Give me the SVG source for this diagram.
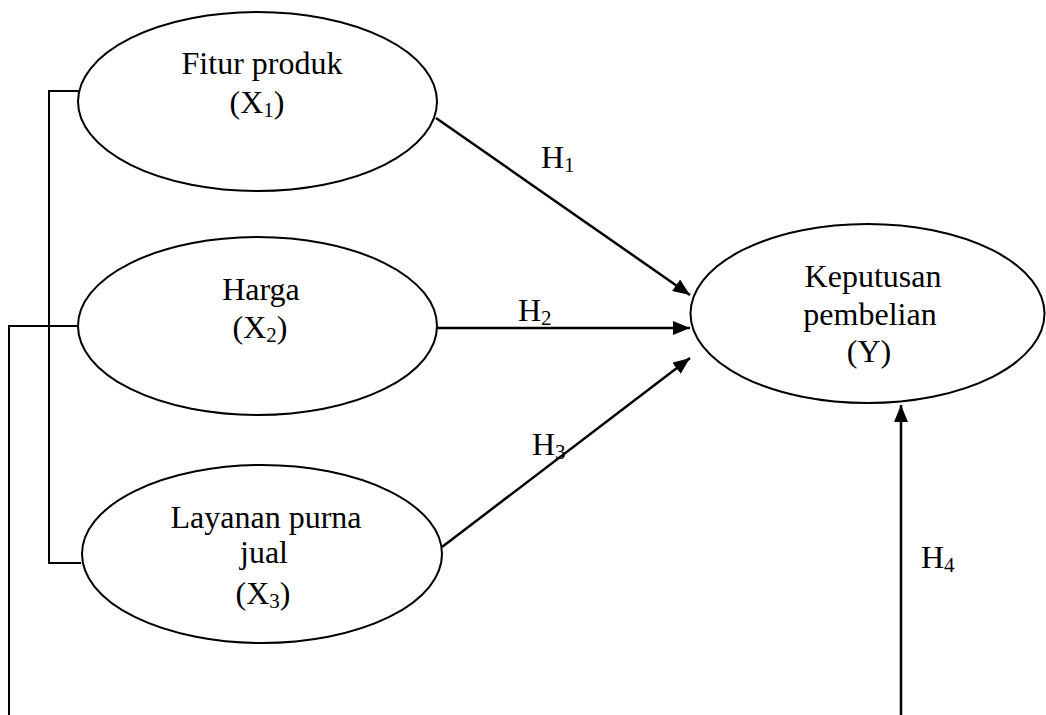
<svg xmlns="http://www.w3.org/2000/svg" width="1046" height="715" viewBox="0 0 1046 715">
  <style>
    .node { fill: #ffffff; stroke: #000000; stroke-width: 2; }
    .lbl { font-family: "Liberation Serif", "Times New Roman", serif; font-size: 32px; fill: #000000; text-anchor: middle; }
    .hl { font-family: "Liberation Serif", "Times New Roman", serif; font-size: 32px; fill: #000000; }
    .sub { font-size: 21px; }
    .wire { fill: none; stroke: #000000; stroke-width: 2; }
    .arrow { fill: none; stroke: #000000; stroke-width: 2.5; marker-end: url(#head); }
  </style>
  <defs>
    <marker id="head" markerUnits="userSpaceOnUse" markerWidth="18" markerHeight="14" refX="17" refY="7" orient="auto">
      <path d="M0,0 L17,7 L0,14 z" fill="#000000"/>
    </marker>
  </defs>
  <rect width="1046" height="715" fill="#ffffff"/>

  <!-- connectors -->
  <g id="connectors">
    <!-- bracket joining X1, X2, X3 -->
    <polyline class="wire" points="79,91 49,91 49,563 81,563"/>
    <!-- line from X2 running down to the bottom edge -->
    <polyline class="wire" points="78,326 9,326 9,715"/>
    <line class="arrow" x1="436" y1="118" x2="690" y2="295"/>
    <line class="arrow" x1="437" y1="328" x2="690" y2="328"/>
    <line class="arrow" x1="442" y1="547" x2="690" y2="358"/>
    <line class="arrow" x1="901" y1="715" x2="901" y2="405"/>
    <text class="hl" x="541" y="168">H<tspan class="sub" dy="4">1</tspan></text>
    <text class="hl" x="518" y="321">H<tspan class="sub" dy="4">2</tspan></text>
    <text class="hl" x="532" y="455">H<tspan class="sub" dy="4">3</tspan></text>
    <text class="hl" x="921" y="568">H<tspan class="sub" dy="4">4</tspan></text>
  </g>

  <g id="x1">
    <ellipse class="node" cx="257.5" cy="101.5" rx="179.5" ry="89.5"/>
    <text class="lbl" x="262" y="74">Fitur produk</text>
    <text class="lbl" x="257" y="113">(X<tspan class="sub" dy="4">1</tspan><tspan dy="-4">)</tspan></text>
  </g>

  <g id="x2">
    <ellipse class="node" cx="257.5" cy="326" rx="179.5" ry="89"/>
    <text class="lbl" x="261" y="300">Harga</text>
    <text class="lbl" x="260" y="338">(X<tspan class="sub" dy="4">2</tspan><tspan dy="-4">)</tspan></text>
  </g>

  <g id="x3">
    <ellipse class="node" cx="262" cy="554" rx="180" ry="89"/>
    <text class="lbl" x="266" y="528">Layanan purna</text>
    <text class="lbl" x="264" y="563">jual</text>
    <text class="lbl" x="263" y="604">(X<tspan class="sub" dy="4">3</tspan><tspan dy="-4">)</tspan></text>
  </g>

  <g id="y">
    <ellipse class="node" cx="867.5" cy="313.5" rx="177" ry="89.5"/>
    <text class="lbl" x="873" y="287">Keputusan</text>
    <text class="lbl" x="870" y="325">pembelian</text>
    <text class="lbl" x="869" y="362">(Y)</text>
  </g>
</svg>
